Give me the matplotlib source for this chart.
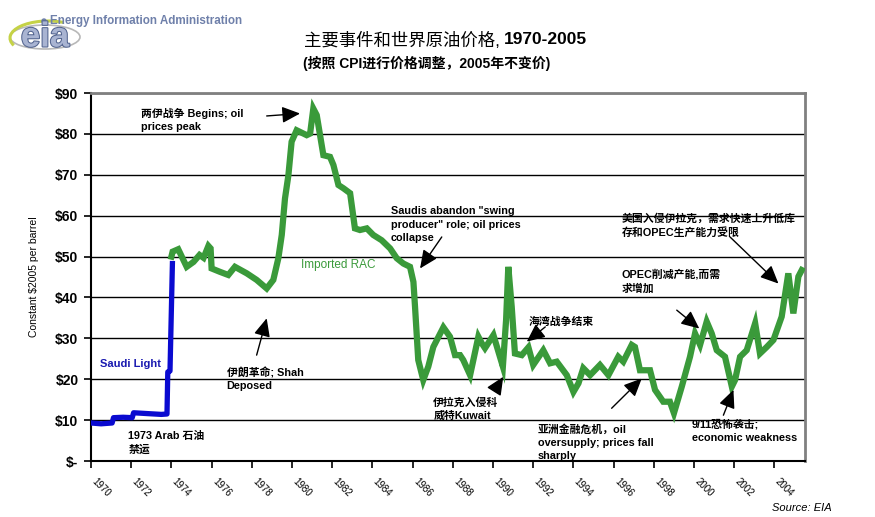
import matplotlib
matplotlib.use('Agg')
import matplotlib.pyplot as plt
import matplotlib.patheffects as pe
import matplotlib.transforms as mtransforms
from matplotlib.patches import Ellipse, Arc, Circle

# Saudi Light (blue), nominal converted to $2005
saudi_year = [1970.0, 1970.5, 1971.05, 1971.12, 1971.6, 1972.05, 1972.12, 1972.8, 1973.5, 1973.78,
              1973.82, 1973.93, 1974.05]
saudi_price = [9.3, 9.1, 9.3, 10.6, 10.7, 10.6, 11.8, 11.6, 11.4, 11.5, 21.8, 22.0, 48.3]

# Imported RAC (green)
rac_year = [1974.0, 1974.06, 1974.34, 1974.76, 1975.1, 1975.4, 1975.6, 1975.84, 1975.95, 1976.0,
            1976.4, 1976.83, 1977.16, 1977.75, 1978.24, 1978.74, 1979.07, 1979.32, 1979.49, 1979.65,
            1979.82, 1979.98, 1980.23, 1980.73, 1980.9, 1981.06, 1981.23, 1981.56, 1981.89, 1982.06,
            1982.31, 1982.56, 1982.89, 1983.13, 1983.38, 1983.72, 1984.04, 1984.46, 1984.88, 1985.21,
            1985.54, 1985.87, 1986.04, 1986.12, 1986.28, 1986.53, 1986.78, 1987.03, 1987.53, 1987.86,
            1988.11, 1988.36, 1988.52, 1988.86, 1989.27, 1989.44, 1989.6, 1990.02, 1990.27, 1990.49,
            1990.65, 1990.76, 1990.93, 1991.09, 1991.43, 1991.76, 1992.0, 1992.5, 1992.84, 1993.17,
            1993.67, 1994.0, 1994.25, 1994.49, 1994.83, 1995.32, 1995.74, 1996.23, 1996.48, 1996.9,
            1997.06, 1997.31, 1997.81, 1998.06, 1998.47, 1998.8, 1999.0, 1999.39, 1999.8, 2000.05,
            2000.3, 2000.63, 2000.88, 2001.13, 2001.54, 2001.88, 2002.04, 2002.29, 2002.62, 2003.04,
            2003.28, 2003.62, 2003.95, 2004.36, 2004.69, 2004.94, 2005.19, 2005.36]
rac_price = [50.0, 51.2, 51.8, 47.5, 48.7, 50.4, 49.7, 52.6, 52.0, 47.1,
             46.3, 45.5, 47.5, 45.9, 44.3, 42.2, 44.3, 49.6, 55.3, 64.2,
             69.9, 78.1, 80.9, 79.7, 80.1, 86.2, 84.6, 74.8, 74.4, 72.4,
             67.5, 66.7, 65.5, 56.9, 56.5, 56.9, 55.3, 54.0, 52.0, 49.6,
             48.3, 47.5, 43.8, 37.7, 24.7, 19.8, 23.1, 27.9, 32.7, 30.4,
             25.9, 25.9, 24.7, 21.0, 30.4, 28.8, 27.6, 30.8, 26.7, 23.1,
             34.5, 47.5, 37.7, 26.3, 25.9, 27.8, 23.5, 27.1, 23.9, 24.3,
             21.0, 16.9, 19.0, 22.7, 21.0, 23.5, 21.0, 25.5, 24.3, 28.4,
             27.9, 22.2, 22.2, 17.4, 14.5, 14.5, 11.7, 18.2, 25.5, 31.2,
             28.4, 34.1, 31.2, 27.1, 25.5, 18.2, 19.8, 25.5, 27.1, 33.7,
             26.3, 27.9, 29.6, 35.3, 45.9, 36.1, 45.1, 46.7]

x_ticks = list(range(1970, 2005, 2))
y_ticks = list(range(0, 100, 10))
y_labels = ['$-'] + ['$%d' % v for v in y_ticks[1:]]

# (text, text top-left, arrow tail, arrow head)
events = [
    ('两伊战争 Begins; oil\nprices peak', (1972.49, 86.3), (1978.74, 84.4), (1980.4, 85.0)),
    ('Saudis abandon "swing\nproducer" role; oil prices\ncollapse', (1984.93, 62.3), (1987.45, 54.8), (1986.37, 47.1)),
    ('1973 Arab 石油\n禁运', (1971.86, 7.3), None, None),
    ('伊朗革命; Shah\nDeposed', (1976.75, 23.0), (1978.24, 25.9), (1978.74, 34.9)),
    ('伊拉克入侵科\n威特Kuwait', (1987.03, 15.6), (1990.1, 17.4), (1990.51, 20.6)),
    ('海湾战争结束', (1991.76, 35.4), (1992.6, 32.8), (1991.68, 29.2)),
    ('亚洲金融危机，oil\noversupply; prices fall\nsharply', (1992.22, 9.0), (1995.9, 12.9), (1997.4, 20.2)),
    ('9/11恐怖袭击;\neconomic weakness', (1999.9, 10.3), (2001.46, 11.2), (2001.96, 17.4)),
    ('OPEC削减产能,而需\n求增加', (1996.4, 46.9), (1999.14, 36.9), (2000.26, 32.4)),
    ('美国入侵伊拉克，需求快速上升低库\n存和OPEC生产能力受限', (1996.4, 60.6), (2001.79, 54.8), (2004.2, 43.4)),
]

fam = ['Liberation Sans', 'Noto Sans CJK SC', 'DejaVu Sans']
plt.rcParams['font.family'] = fam

fig = plt.figure(figsize=(8.75, 5.17), dpi=100)
ax = fig.add_axes([0.104, 0.1083, 0.816, 0.7117])

ax.plot(rac_year, rac_price, color='#3a9a3a', lw=4.5, solid_joinstyle='miter', zorder=3)
ax.plot(saudi_year, saudi_price, color='#0a0ad0', lw=3.8, zorder=4)

ax.set_xlim(1970, 2005.52)
ax.set_ylim(0, 90)
ax.set_yticks(y_ticks)
ax.set_yticklabels(y_labels, fontsize=10, fontweight='bold')
ax.set_xticks(x_ticks)
ax.set_xticklabels([])
# slanted year labels, offset a bit right/below each tick
offs = ax.get_xaxis_transform() + mtransforms.ScaledTranslation(6 / 100, -15 / 100, fig.dpi_scale_trans)
for yr in x_ticks:
    ax.text(yr, 0, str(yr), transform=offs, fontsize=7, rotation=-45,
            ha='left', va='top', rotation_mode='anchor', clip_on=False)
ax.tick_params(axis='x', direction='out', length=5, width=1.2)
ax.tick_params(axis='y', direction='out', length=5, width=1.2, pad=4)
ax.yaxis.grid(True, color='black', lw=1)
ax.set_axisbelow(True)
for s in ['left', 'bottom']:
    ax.spines[s].set_color('black')
    ax.spines[s].set_linewidth(1.5)
for s in ['top', 'right']:
    ax.spines[s].set_color('#808080')
    ax.spines[s].set_linewidth(2)

ax.set_ylabel('Constant $2005 per barrel', fontsize=7.5, labelpad=12)

ax.text(1970.45, 23.7, 'Saudi Light', color='#1a1ab0', fontsize=8, fontweight='bold', va='center')
ax.text(1980.43, 47.9, 'Imported RAC', color='#3a9a3a', fontsize=8.5, va='center')

for label, pos, tail, head in events:
    ax.text(pos[0], pos[1], label, fontsize=7.8, fontweight='bold', va='top', ha='left',
            linespacing=1.4, zorder=5)
    if tail is not None:
        ax.annotate('', xy=head, xytext=tail,
                    arrowprops=dict(arrowstyle='-|>,head_length=0.55,head_width=0.25',
                                    color='black', lw=1, mutation_scale=20,
                                    shrinkA=0, shrinkB=0), zorder=5)

# title
fig.text(500 / 875, 1 - 40 / 517, '主要事件和世界原油价格,', fontsize=12.5,
         ha='right', va='center')
fig.text(504 / 875, 1 - 40 / 517, '1970-2005', fontsize=12.5, fontweight='bold',
         ha='left', va='center')
fig.text(427 / 875, 1 - 63 / 517, '(按照 CPI进行价格调整，2005年不变价)', fontsize=10,
         fontweight='bold', ha='center', va='center')

# EIA logo
fig.patches.append(Ellipse((45 / 875, 1 - 37 / 517), 70 / 875, 24 / 517,
                           transform=fig.transFigure, fill=False, ec='#b8b8b8', lw=1.2))
fig.patches.append(Arc((48 / 875, 1 - 38 / 517), 76 / 875, 34 / 517, theta1=60, theta2=200,
                       transform=fig.transFigure, color='#c5d246', lw=2.2))
fig.patches.append(Ellipse((44 / 875, 1 - 21 / 517), 4 / 875, 4 / 517,
                           transform=fig.transFigure, color='#6f80aa'))
fig.text(50 / 875, 1 - 21 / 517, 'Energy Information Administration', fontsize=8.4,
         fontweight='bold', color='#6f80aa', ha='left', va='center')
t = fig.text(45 / 875, 1 - 37 / 517, 'eia', fontsize=25, fontweight='bold', color='#a9b4d2',
             ha='center', va='center')
t.set_path_effects([pe.withStroke(linewidth=1.5, foreground='#53648f')])

fig.text(832 / 875, 1 - 508 / 517, 'Source: EIA', fontsize=8, style='italic',
         ha='right', va='center')

fig.savefig('out.png', dpi=100)
